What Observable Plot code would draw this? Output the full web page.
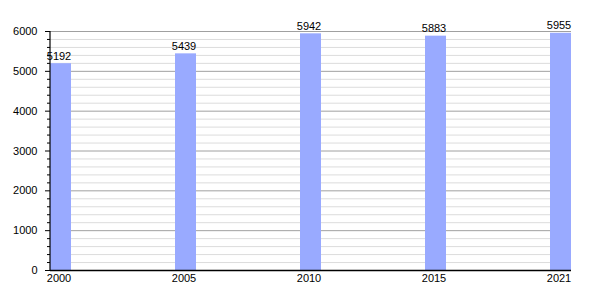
<!DOCTYPE html>
<html>
<head>
<meta charset="utf-8">
<script src="https://cdn.jsdelivr.net/npm/d3@7"></script>
<script src="https://cdn.jsdelivr.net/npm/@observablehq/plot@0.6"></script>
<style>
  html, body { margin: 0; padding: 0; background: #fff; }
  svg { font-family: "Liberation Sans", Arial, sans-serif; }
</style>
</head>
<body>
<div id="chart"></div>
<script>
const years = ["2000", "2005", "2010", "2015", "2021"];
const population = [5192, 5439, 5942, 5883, 5955];
const majorTicks = [0, 1000, 2000, 3000, 4000, 5000, 6000];
const minorTicks = [200, 400, 600, 800, 1200, 1400, 1600, 1800, 2200, 2400, 2600, 2800,
                    3200, 3400, 3600, 3800, 4200, 4400, 4600, 4800, 5200, 5400, 5600, 5800];

const data = years.map((y, i) => ({year: y, value: population[i]}));

// vertical axis line along the left edge of the frame, from the y scale's range
function yAxisLine(index, scales, values, dims) {
  const [y0, y1] = scales.y.range ? [scales.y(0), scales.y(6000)] : [dims.height - dims.marginBottom, dims.marginTop];
  const g = d3.create("svg:g");
  g.append("line")
    .attr("x1", dims.marginLeft).attr("x2", dims.marginLeft)
    .attr("y1", scales.y(0)).attr("y2", scales.y(6000))
    .attr("stroke", "#000").attr("stroke-width", 1.2);
  return g.node();
}

const chart = Plot.plot({
  width: 600,
  height: 300,
  marginLeft: 50,
  marginRight: 29,
  marginTop: 31,
  marginBottom: 30,
  style: {fontFamily: "'Liberation Sans', Arial, sans-serif", fontSize: "11px", color: "#000", background: "#fff"},
  x: {type: "band", domain: years, paddingInner: 0.832, paddingOuter: 0, align: 0},
  y: {domain: [0, 6000]},
  marks: [
    Plot.ruleY(minorTicks, {stroke: "#dcdcdc", strokeWidth: 1}),
    Plot.ruleY(majorTicks.filter(d => d > 0), {stroke: "#a0a0a0", strokeWidth: 1}),
    Plot.barY(data, {x: "year", y: "value", fill: "#99aaff"}),
    Plot.text(data, {x: "year", y: "value", text: d => String(d.value), lineAnchor: "bottom", dy: -4, dx: -2, fill: "#000", fontSize: 11}),
    Plot.axisY(minorTicks, {tickSize: 3, text: null, stroke: "#000", label: null}),
    Plot.axisY(majorTicks, {tickSize: 5, tickPadding: 8, stroke: "#000", fill: "#000", tickFormat: d => String(d), label: null}),
    Plot.axisX({tickSize: 0, tickPadding: 4, label: null, dx: -2, fill: "#000"}),
    yAxisLine,
    Plot.ruleY([0], {stroke: "#000", strokeWidth: 1.5})
  ]
});
document.getElementById("chart").appendChild(chart);
</script>
</body>
</html>
